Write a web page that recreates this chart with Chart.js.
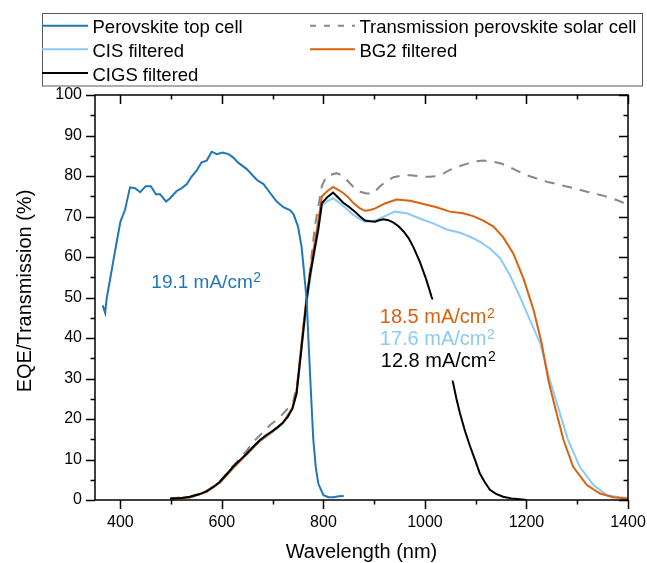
<!DOCTYPE html>
<html>
<head>
<meta charset="utf-8">
<script src="https://cdn.jsdelivr.net/npm/chart.js@4.4.1/dist/chart.umd.min.js"></script>
<style>
  html, body { margin: 0; padding: 0; background: #fff; }
</style>
</head>
<body>
<canvas id="eqe-chart" width="647" height="563"></canvas>
<script>
// ── spectra (wavelength in nm, EQE / transmission in %) ──
const peroNm  = [365, 370, 373, 380, 386, 393, 400, 409, 419, 429, 439, 450, 460, 470, 478, 490, 498, 511, 521, 531, 540, 550, 560, 570, 580, 590, 601, 613, 622, 632, 649, 669, 682, 692, 708, 721, 734, 741, 750, 757, 762, 767, 771, 776, 780, 785, 790, 800, 810, 820, 830, 840];
const peroEqe = [48.1, 46.2, 49.8, 54.7, 59, 63.9, 68.7, 71.6, 77.2, 77, 76, 77.5, 77.5, 75.5, 75.5, 73.7, 74.5, 76.3, 77, 78, 79.8, 81.3, 83.4, 83.8, 86, 85.4, 85.8, 85.4, 84.6, 83.3, 81.7, 79, 78, 76.3, 73.7, 72.3, 71.6, 70.6, 67.5, 62.5, 56, 49.4, 38, 25, 15, 8, 4, 1.2, 0.7, 0.7, 0.9, 1.0];

const transNm  = [498, 537, 570, 596, 622, 649, 662, 675, 695, 710, 724, 740, 750, 760, 770, 783, 797, 806, 815, 826, 836, 846, 852, 865, 872, 885, 898, 911, 925, 938, 955, 971, 985, 997, 1010, 1023, 1036, 1049, 1065, 1082, 1100, 1115, 1135, 1150, 1161, 1180, 1200, 1220, 1240, 1260, 1279, 1300, 1319, 1340, 1358, 1375, 1391, 1400];
const transPct = [0.4, 0.8, 2.2, 4.6, 8.4, 12.2, 14.4, 16, 18.5, 20, 21.8, 24, 30, 42, 52.7, 67.5, 77.5, 80, 80.3, 80.7, 80.2, 79, 78.2, 76.5, 76.1, 75.7, 75.7, 77.4, 78.8, 79.7, 80.1, 80.2, 80, 79.8, 79.8, 80, 80.6, 81.5, 82.3, 83, 83.6, 83.8, 83.5, 83.1, 82.5, 81.4, 80.2, 79.4, 78.6, 78, 77.4, 76.8, 76.1, 75.5, 74.9, 74.2, 73.4, 73];

const cisNm  = [498, 537, 570, 596, 622, 649, 675, 698, 720, 739, 747, 750, 758, 767, 780, 790, 797, 808, 819, 829, 839, 850, 859, 870, 882, 892, 902, 921, 941, 964, 990, 1016, 1043, 1069, 1089, 1108, 1128, 1148, 1167, 1187, 1207, 1227, 1246, 1262, 1282, 1305, 1332, 1358, 1384, 1400];
const cisEqe = [0.3, 0.6, 2.0, 4.2, 7.8, 11.2, 14.5, 16.6, 18.8, 22.5, 26, 29.3, 38.5, 48.8, 59.5, 66.5, 72.8, 73.8, 74.5, 73.6, 72.6, 71.4, 70.4, 69.5, 68.7, 68.8, 69, 70.1, 71.2, 70.8, 69.5, 68.3, 66.8, 66, 65, 63.8, 62.1, 59.7, 55.6, 50.2, 44.4, 38.7, 29.6, 23, 14.8, 8.2, 3.7, 1.2, 0.7, 0.5];

const bg2Nm  = [498, 537, 570, 596, 622, 649, 675, 698, 720, 739, 747, 750, 758, 767, 780, 790, 797, 808, 819, 829, 839, 850, 859, 872, 882, 892, 902, 921, 944, 971, 997, 1023, 1049, 1075, 1095, 1115, 1135, 1154, 1174, 1194, 1214, 1230, 1243, 1256, 1273, 1292, 1319, 1345, 1371, 1397, 1400];
const bg2Eqe = [0.3, 0.6, 2.0, 4.3, 7.9, 11.3, 14.6, 16.8, 19, 22.8, 26.8, 30.5, 40, 50.5, 61.5, 69, 75, 76.3, 77.3, 76.6, 75.8, 74.6, 73.3, 72, 71.4, 71.6, 72, 73.2, 74.2, 73.9, 73.1, 72.3, 71.2, 70.8, 70.1, 69, 67.5, 64.9, 60.9, 54.7, 46.9, 38.7, 29.6, 23, 14.8, 8.2, 3.7, 1.6, 0.7, 0.4, 0.4];

const cigsNm  = [498, 520, 537, 555, 570, 583, 596, 609, 622, 636, 649, 662, 675, 687, 698, 710, 720, 730, 739, 747, 750, 758, 767, 773, 780, 790, 797, 808, 819, 829, 839, 850, 862, 872, 882, 892, 902, 910, 918, 928, 938, 948, 958, 968, 977, 990, 1003, 1013, 1022, 1031, 1040, 1048, 1055, 1062, 1069, 1079, 1089, 1099, 1108, 1118, 1128, 1140, 1154, 1170, 1187, 1200];
const cigsEqe = [0.4, 0.5, 0.8, 1.4, 2.2, 3.2, 4.5, 6.3, 8.2, 9.9, 11.5, 13.2, 14.8, 16, 16.9, 18, 19.1, 20.6, 22.6, 26.3, 29.6, 39, 49.4, 55, 60, 67, 73.3, 74.8, 75.9, 74.7, 73.4, 72.4, 71.2, 70, 69, 68.8, 68.7, 69.1, 69.3, 69.1, 68.5, 67.6, 66.3, 64.6, 62.5, 58.8, 54.3, 50.2, 46.8, 43, 38.8, 34.5, 29.2, 25, 21.4, 17, 13.2, 9.8, 6.6, 4.4, 2.5, 1.5, 0.8, 0.4, 0.2, 0];

// integrated current densities (mA/cm²)
const jscPero = '19.1';
const jscBg2  = '18.5';
const jscCis  = '17.6';
const jscCigs = '12.8';

// ── axis ticks ──
const xMajorTicks = [400, 600, 800, 1000, 1200, 1400];
const xMinorTicks = [500, 700, 900, 1100, 1300];
const yMajorTicks = [0, 10, 20, 30, 40, 50, 60, 70, 80, 90, 100];
const yMinorTicks = [5, 15, 25, 35, 45, 55, 65, 75, 85, 95];

const FONT = '"Liberation Sans", Arial, sans-serif';
const C_PERO  = '#1f77b9';
const C_CIS   = '#8ccaf5';
const C_BG2   = '#d9620f';
const C_CIGS  = '#000000';
const C_TRANS = '#888888';

function pts(xs, ys) { return xs.map((x, i) => ({ x: x, y: ys[i] })); }

// legend slots: [dataset index, column, row]
const legendSlots = [[0, 0, 0], [4, 1, 0], [3, 0, 1], [2, 1, 1], [1, 0, 2]];

// Jsc labels anchored in data coordinates (left edge, baseline)
const jscNotes = [
  { text: jscPero, nm: 461, pct: 52.4, color: C_PERO, size: 19 },
  { text: jscBg2,  nm: 911, pct: 43.6, color: C_BG2,  size: 20 },
  { text: jscCis,  nm: 911, pct: 38.3, color: C_CIS,  size: 20 },
  { text: jscCigs, nm: 913, pct: 32.9, color: C_CIGS, size: 20 }
];

function drawJsc(ctx, note, x, yb) {
  ctx.fillStyle = note.color;
  ctx.textAlign = 'left';
  ctx.textBaseline = 'alphabetic';
  ctx.font = note.size + 'px ' + FONT;
  const main = note.text + ' mA/cm';
  ctx.fillText(main, x, yb);
  const w = ctx.measureText(main).width;
  ctx.font = Math.round(note.size * 0.72) + 'px ' + FONT;
  ctx.fillText('2', x + w + 0.5, yb - note.size * 0.28);
}

const decor = {
  id: 'decor',
  afterDatasetsDraw(chart) {
    const { ctx, scales: { x, y } } = chart;
    ctx.save();
    // white patch under the stacked labels (covers the CIGS curve there)
    const lx = x.getPixelForValue(911);
    ctx.fillStyle = '#fff';
    ctx.fillRect(lx - 3, y.getPixelForValue(49.5), 125, y.getPixelForValue(29.5) - y.getPixelForValue(49.5));
    jscNotes.forEach(n => drawJsc(ctx, n, x.getPixelForValue(n.nm), y.getPixelForValue(n.pct)));
    ctx.restore();
  },
  afterDraw(chart) {
    const { ctx, chartArea: a, scales: { x, y } } = chart;
    ctx.save();

    // frame + ticks (outside on bottom/left, inside on top/right)
    ctx.strokeStyle = '#000';
    ctx.lineWidth = 1.5;
    ctx.strokeRect(a.left, a.top, a.right - a.left, a.bottom - a.top);
    ctx.beginPath();
    const tickX = (v, len) => {
      const px = Math.round(x.getPixelForValue(v)) + 0.5;
      ctx.moveTo(px, a.bottom); ctx.lineTo(px, a.bottom + len);
      ctx.moveTo(px, a.top);    ctx.lineTo(px, a.top + len);
    };
    const tickY = (v, len) => {
      const py = Math.round(y.getPixelForValue(v)) + 0.5;
      ctx.moveTo(a.left, py);  ctx.lineTo(a.left - len, py);
      ctx.moveTo(a.right, py); ctx.lineTo(a.right - len, py);
    };
    xMajorTicks.forEach(v => tickX(v, 9));
    xMinorTicks.forEach(v => tickX(v, 4.5));
    yMajorTicks.forEach(v => tickY(v, 9));
    yMinorTicks.forEach(v => tickY(v, 4.5));
    ctx.stroke();

    // axis titles
    ctx.fillStyle = '#000';
    ctx.font = '20px ' + FONT;
    ctx.textAlign = 'center';
    ctx.textBaseline = 'middle';
    ctx.fillText('Wavelength (nm)', (a.left + a.right) / 2, 552);
    ctx.translate(25, 291);
    ctx.rotate(-Math.PI / 2);
    ctx.fillText('EQE/Transmission (%)', 0, 0);
    ctx.setTransform(1, 0, 0, 1, 0, 0);

    // legend box
    ctx.strokeStyle = '#5a5a5a';
    ctx.lineWidth = 1;
    ctx.strokeRect(42.5, 13.5, 600, 72.5);
    const colSample = [[42, 88], [310, 355]];
    const rowY = [25.7, 49.3, 73];
    ctx.font = '18.5px ' + FONT;
    ctx.textAlign = 'left';
    ctx.textBaseline = 'alphabetic';
    legendSlots.forEach(([di, col, row]) => {
      const ds = chart.data.datasets[di];
      const [x0, x1] = colSample[col];
      const yy = rowY[row];
      ctx.strokeStyle = ds.borderColor;
      ctx.lineWidth = ds.borderWidth;
      ctx.setLineDash(ds.borderDash ? [6, 8] : []);
      ctx.beginPath();
      ctx.moveTo(x0, yy); ctx.lineTo(x1, yy);
      ctx.stroke();
      ctx.setLineDash([]);
      ctx.fillStyle = '#000';
      ctx.fillText(ds.label, x1 + 4.5, yy + 7.5);
    });
    ctx.restore();
  }
};

new Chart(document.getElementById('eqe-chart'), {
  type: 'line',
  data: {
    datasets: [
      { label: 'Perovskite top cell', data: pts(peroNm, peroEqe), borderColor: C_PERO, borderWidth: 2 },
      { label: 'CIGS filtered', data: pts(cigsNm, cigsEqe), borderColor: C_CIGS, borderWidth: 2 },
      { label: 'BG2 filtered', data: pts(bg2Nm, bg2Eqe), borderColor: C_BG2, borderWidth: 2 },
      { label: 'CIS filtered', data: pts(cisNm, cisEqe), borderColor: C_CIS, borderWidth: 2 },
      { label: 'Transmission perovskite solar cell', data: pts(transNm, transPct), borderColor: C_TRANS, borderWidth: 2, borderDash: [10, 8] }
    ]
  },
  options: {
    responsive: false,
    animation: false,
    devicePixelRatio: 1,
    layout: { padding: { top: 95, right: 19, left: 0, bottom: 0 } },
    elements: { point: { radius: 0 }, line: { tension: 0, fill: false } },
    plugins: { legend: { display: false }, tooltip: { enabled: false } },
    scales: {
      x: {
        type: 'linear', min: 350, max: 1400,
        grid: { display: false, drawTicks: false },
        border: { display: false },
        afterBuildTicks: s => { s.ticks = xMajorTicks.map(v => ({ value: v })); },
        afterFit: s => { s.height = 63; s.paddingLeft = 0; s.paddingRight = 0; },
        ticks: { color: '#000', padding: 13, maxRotation: 0, font: { family: FONT, size: 16 }, callback: v => String(v) }
      },
      y: {
        type: 'linear', min: 0, max: 100,
        grid: { display: false, drawTicks: false },
        border: { display: false },
        afterBuildTicks: s => { s.ticks = yMajorTicks.map(v => ({ value: v })); },
        afterFit: s => { s.width = 95; s.paddingTop = 0; s.paddingBottom = 0; },
        ticks: { color: '#000', padding: 13, font: { family: FONT, size: 16 } }
      }
    }
  },
  plugins: [decor]
});
</script>
</body>
</html>
